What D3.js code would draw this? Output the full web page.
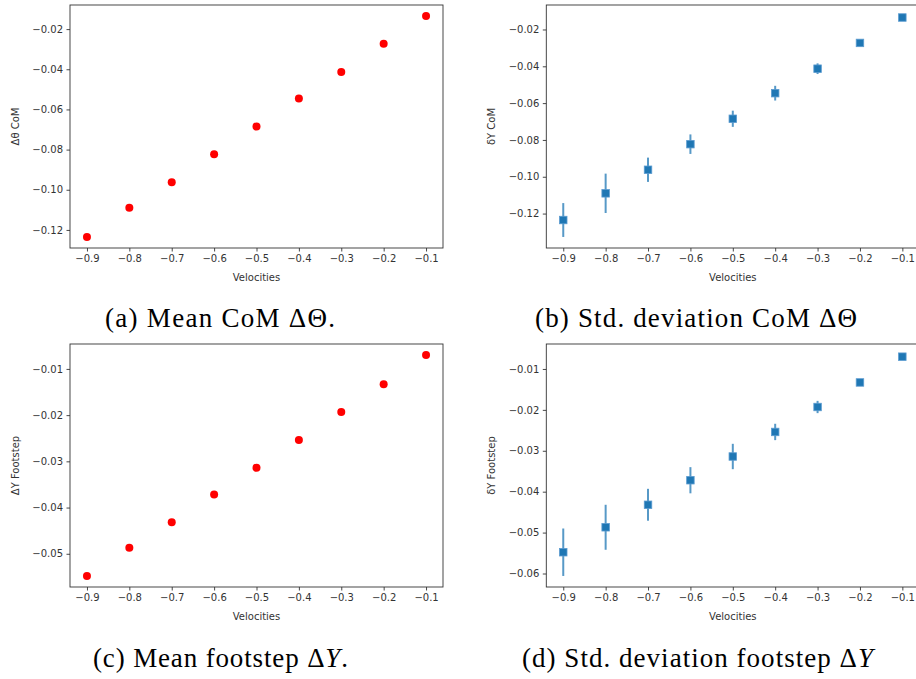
<!DOCTYPE html>
<html>
<head>
<meta charset="utf-8">
<script src="https://cdn.jsdelivr.net/npm/d3@7/dist/d3.min.js"></script>
<style>
  html, body { margin: 0; padding: 0; background: #fff; }
  svg { display: block; }
</style>
</head>
<body>
<svg id="chart" width="916" height="679"></svg>
<script>
// ---- data ----
const velocities = [-0.9, -0.8, -0.7, -0.6, -0.5, -0.4, -0.3, -0.2, -0.1];
const meanCoM = [-0.1235, -0.1090, -0.0962, -0.0823, -0.0685, -0.0546, -0.0413, -0.0273, -0.0135];
const stdCoM = [0.0092, 0.0107, 0.0066, 0.0053, 0.0044, 0.0040, 0.0029, 0.0012, 0.0008];
const meanFoot = [-0.0548, -0.0487, -0.0432, -0.0372, -0.0314, -0.0254, -0.0193, -0.0133, -0.0070];
const stdFoot = [0.0058, 0.0055, 0.0039, 0.0032, 0.0031, 0.0020, 0.0015, 0.0008, 0.0004];
const xTicks = [-0.9, -0.8, -0.7, -0.6, -0.5, -0.4, -0.3, -0.2, -0.1];
const yTicksCoM = [-0.12, -0.10, -0.08, -0.06, -0.04, -0.02];
const yTicksFoot = [-0.05, -0.04, -0.03, -0.02, -0.01];
const yTicksFootStd = [-0.06, -0.05, -0.04, -0.03, -0.02, -0.01];

const svg = d3.select("#chart");
const minus = s => s.replace("-", "\u2212");

function panel(opt) {
  const {left, top, width, height, mean, std, yTicks, yDec, yLabel, kind} = opt;
  const g = svg.append("g").attr("transform", `translate(${left},${top})`);
  const lo = mean.map((m, i) => m - (std ? std[i] : 0));
  const hi = mean.map((m, i) => m + (std ? std[i] : 0));
  const ymin = d3.min(lo), ymax = d3.max(hi);
  const yp = (ymax - ymin) * 0.05;
  const xmin = d3.min(velocities), xmax = d3.max(velocities);
  const xp = (xmax - xmin) * 0.05;
  const x = d3.scaleLinear().domain([xmin - xp, xmax + xp]).range([0, width]);
  const y = d3.scaleLinear().domain([ymin - yp, ymax + yp]).range([height, 0]);

  const fmtY = d => minus(d3.format(`.${yDec}f`)(d));
  const fmtX = d => minus(d3.format(".1f")(d));

  const xAxis = g.append("g").attr("transform", `translate(0,${height})`)
    .call(d3.axisBottom(x).tickValues(xTicks).tickFormat(fmtX).tickSize(3.5).tickPadding(3.5));
  const yAxis = g.append("g")
    .call(d3.axisLeft(y).tickValues(yTicks).tickFormat(fmtY).tickSize(3.5).tickPadding(3.5));
  [xAxis, yAxis].forEach(a => {
    a.select(".domain").remove();
    a.selectAll(".tick line").attr("stroke", "#333").attr("stroke-width", 0.9);
    a.selectAll(".tick text").attr("fill", "#333")
      .style("font-family", "DejaVu Sans").style("font-size", "10px");
  });

  // spines
  g.append("rect").attr("x", 0).attr("y", 0).attr("width", width).attr("height", height)
    .attr("fill", "none").attr("stroke", "#333").attr("stroke-width", 0.9);

  const pts = velocities.map((v, i) => ({v, m: mean[i], s: std ? std[i] : 0}));
  if (kind === "dot") {
    g.selectAll("circle.pt").data(pts).join("circle").attr("class", "pt")
      .attr("cx", d => x(d.v)).attr("cy", d => y(d.m)).attr("r", 4)
      .attr("fill", "#ff0000");
  } else {
    g.selectAll("line.err").data(pts).join("line").attr("class", "err")
      .attr("x1", d => x(d.v)).attr("x2", d => x(d.v))
      .attr("y1", d => y(d.m - d.s)).attr("y2", d => y(d.m + d.s))
      .attr("stroke", "#1f77b4").attr("stroke-opacity", 0.75).attr("stroke-width", 2);
    const s = 7.5;
    g.selectAll("rect.pt").data(pts).join("rect").attr("class", "pt")
      .attr("x", d => x(d.v) - s / 2).attr("y", d => y(d.m) - s / 2)
      .attr("width", s).attr("height", s)
      .attr("fill", "#1f77b4").attr("stroke", "#5b9bd0").attr("stroke-width", 0.8);
  }

  g.append("text").attr("x", width / 2).attr("y", height + 33)
    .attr("text-anchor", "middle").attr("fill", "#333")
    .style("font-family", "DejaVu Sans").style("font-size", "10px").text("Velocities");
  g.append("text").attr("transform", `translate(${opt.yLabelX},${height / 2}) rotate(-90)`)
    .attr("text-anchor", "middle").attr("fill", "#333")
    .style("font-family", "DejaVu Sans").style("font-size", "10px").text(yLabel);
}

panel({left: 70, top: 5, width: 373, height: 243, mean: meanCoM, std: null,
  yTicks: yTicksCoM, yDec: 2, yLabel: "\u0394\u03b8 CoM", kind: "dot", yLabelX: -51});
panel({left: 546.3, top: 5, width: 373, height: 243, mean: meanCoM, std: stdCoM,
  yTicks: yTicksCoM, yDec: 2, yLabel: "\u03b4Y CoM", kind: "sq", yLabelX: -51});
panel({left: 70, top: 344, width: 373, height: 243, mean: meanFoot, std: null,
  yTicks: yTicksFoot, yDec: 2, yLabel: "\u0394Y Footstep", kind: "dot", yLabelX: -51});
panel({left: 546.3, top: 344, width: 373, height: 243, mean: meanFoot, std: stdFoot,
  yTicks: yTicksFootStd, yDec: 2, yLabel: "\u03b4Y Footstep", kind: "sq", yLabelX: -51});

// captions
const captions = [
  {x: 105, y: 327, w: 230, parts: [["(a) Mean CoM \u0394\u0398.", false]]},
  {x: 535, y: 327, w: 322, parts: [["(b) Std. deviation CoM \u0394\u0398", false]]},
  {x: 93, y: 667, w: 255, parts: [["(c) Mean footstep \u0394", false], ["Y", true], [".", false]]},
  {x: 522, y: 667, w: 351, parts: [["(d) Std. deviation footstep \u0394", false], ["Y", true]]}
];
captions.forEach(c => {
  const t = svg.append("text").attr("x", c.x).attr("y", c.y)
    .attr("textLength", c.w).attr("lengthAdjust", "spacing")
    .attr("fill", "#000")
    .style("font-family", "Liberation Serif").style("font-size", "27px");
  c.parts.forEach(p => t.append("tspan").style("font-style", p[1] ? "italic" : "normal").text(p[0]));
});
</script>
</body>
</html>
